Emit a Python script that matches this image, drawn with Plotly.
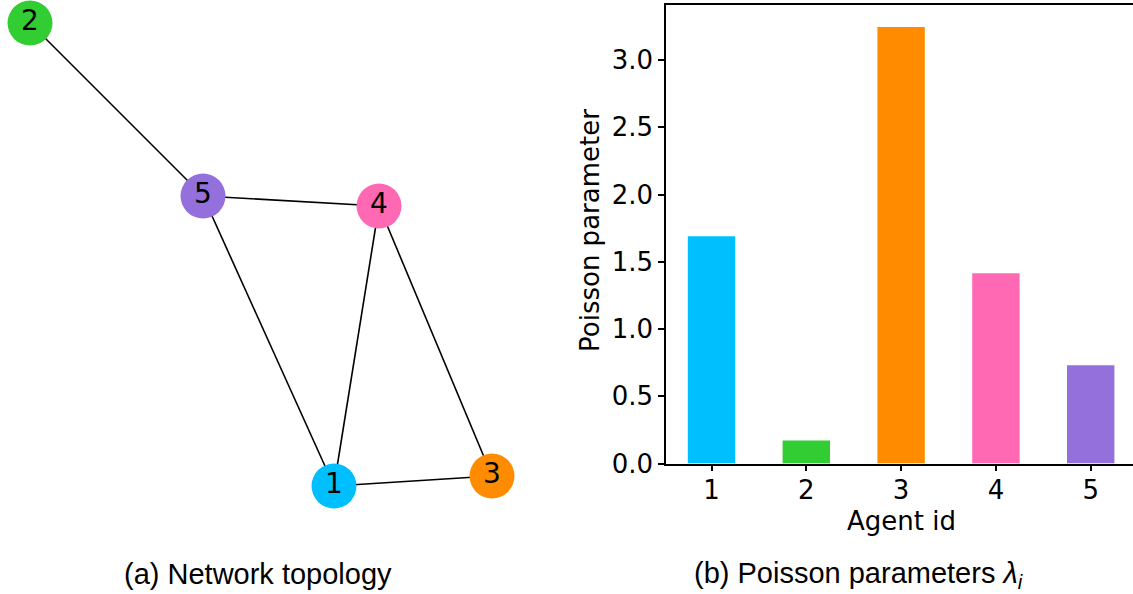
import plotly.graph_objects as go

# ---- data ----
agent_ids = [1, 2, 3, 4, 5]
poisson_params = [1.69, 0.171, 3.246, 1.415, 0.73]
colors = ["#00BFFF", "#32CD32", "#FF8C00", "#FF69B4", "#9370DB"]
tick_vals = [0, 0.5, 1.0, 1.5, 2.0, 2.5, 3.0]
tick_text = ["0.0", "0.5", "1.0", "1.5", "2.0", "2.5", "3.0"]

# network layout positions (graph layout coordinates)
node_x = [334, 30, 492, 379, 203]
node_y = [486, 23, 476, 206, 196]
edges = [(2, 5), (5, 4), (5, 1), (4, 1), (4, 3), (1, 3)]

W, H = 1133, 594
fig = go.Figure()

# edges
ex, ey = [], []
for a, b in edges:
    ex += [node_x[a - 1], node_x[b - 1], None]
    ey += [node_y[a - 1], node_y[b - 1], None]
fig.add_trace(go.Scatter(x=ex, y=ey, mode="lines", line=dict(color="black", width=1.6),
                         xaxis="x", yaxis="y", hoverinfo="skip", showlegend=False,
                         cliponaxis=False))
# nodes
fig.add_trace(go.Scatter(x=node_x, y=node_y, mode="markers+text",
                         marker=dict(size=45, color=colors, line=dict(width=0)),
                         text=[str(i) for i in agent_ids], textposition="middle center",
                         textfont=dict(family="DejaVu Sans", size=28, color="black"),
                         xaxis="x", yaxis="y", showlegend=False, cliponaxis=False))

# bars
fig.add_trace(go.Bar(x=agent_ids, y=poisson_params, marker=dict(color=colors, line=dict(width=0)),
                     width=0.5, xaxis="x2", yaxis="y2", showlegend=False))

x0_px, x1_px = 666, 1133
y_top_px, y_bot_px = 4.5, 463.5
unit_x = 94.8
unit_y = 134.5
xr0 = 1 - 45.5 / unit_x
xr1 = xr0 + (x1_px - x0_px) / unit_x
yr1 = (y_bot_px - y_top_px) / unit_y

fig.update_layout(
    template="none",
    width=W, height=H,
    autosize=False,
    margin=dict(l=0, r=0, t=0, b=0, pad=0, autoexpand=False),
    paper_bgcolor="white", plot_bgcolor="white",
    xaxis=dict(domain=[0, 566 / W], range=[0, 566], visible=False, fixedrange=True,
               automargin=False),
    yaxis=dict(domain=[0, 1], range=[H, 0], visible=False, fixedrange=True,
               automargin=False),
    xaxis2=dict(domain=[x0_px / W, 1.0], range=[xr0, xr1], anchor="y2",
                tickvals=agent_ids, ticktext=[str(i) for i in agent_ids],
                ticks="outside", ticklen=6, tickwidth=1.5, tickcolor="black",
                ticklabelstandoff=-3,
                showline=True, linecolor="black", linewidth=1.5, mirror=True,
                showgrid=False, zeroline=False, automargin=False,
                tickfont=dict(family="DejaVu Sans", size=26, color="black")),
    yaxis2=dict(domain=[1 - y_bot_px / H, 1 - y_top_px / H], range=[0, yr1], anchor="x2",
                tickvals=tick_vals, ticktext=tick_text,
                ticks="outside", ticklen=6, tickwidth=1.5, tickcolor="black",
                showline=True, linecolor="black", linewidth=1.5,
                showgrid=False, zeroline=False, automargin=False,
                tickfont=dict(family="DejaVu Sans", size=26, color="black")),
    annotations=[
        dict(text="Poisson parameter", x=590 / W, y=1 - 231 / H, xref="paper", yref="paper",
             textangle=-90, showarrow=False, xanchor="center", yanchor="middle",
             font=dict(family="DejaVu Sans", size=26, color="black")),
        dict(text="Agent id", x=901 / W, y=1 - 521 / H, xref="paper", yref="paper",
             showarrow=False, xanchor="center", yanchor="middle",
             font=dict(family="DejaVu Sans", size=26, color="black")),
        dict(text="(a) Network topology", x=258 / W, y=1 - 574 / H, xref="paper", yref="paper",
             showarrow=False, xanchor="center", yanchor="middle",
             font=dict(family="Liberation Sans", size=29, color="black")),
        dict(text="(b) Poisson parameters <i>λ</i><sub><i>i</i></sub>", x=858 / W, y=1 - 575 / H,
             xref="paper", yref="paper",
             showarrow=False, xanchor="center", yanchor="middle",
             font=dict(family="Liberation Sans", size=29, color="black")),
    ],
)

fig.write_html("out.html")
